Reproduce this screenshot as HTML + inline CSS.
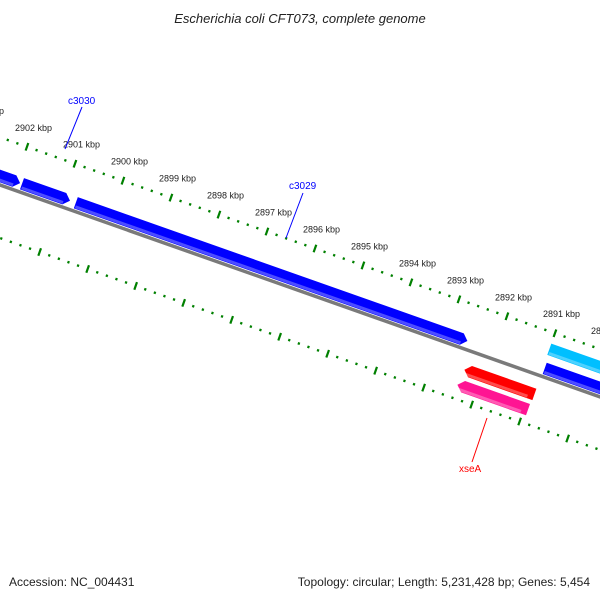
<!DOCTYPE html>
<html><head><meta charset="utf-8"><style>
body{margin:0;background:#fff}
svg{display:block;font-family:"Liberation Sans","DejaVu Sans",sans-serif}
</style></head><body>
<svg id="map" width="600" height="600" viewBox="0 0 600 600">
<text x="300" y="23" text-anchor="middle" font-size="13" font-style="italic" fill="#222">Escherichia coli CFT073, complete genome</text>
<text x="9" y="586" font-size="12" fill="#222">Accession: NC_004431</text>
<text x="590" y="586" text-anchor="end" font-size="12" fill="#222">Topology: circular; Length: 5,231,428 bp; Genes: 5,454</text>
<g id="layer"></g>
</svg>
<script>
// data (kbp)
const tickKbp = [2903,2902,2901,2900,2899,2898,2897,2896,2895,2894,2893,2892,2891,2890];
const geneNames = ["g-left","c3030","c3029","g-right","g-cyan","xseA-red","xseA-pink"];
const geneStart = [2902.6,2901.85,2900.73,2890.96,2891.0,2892.44,2892.47];
const geneEnd   = [2901.89,2900.85,2892.57,2889.5,2889.5,2890.98,2891.0];
const geneStrand= [1,1,1,1,1,-1,-1];
const geneColor = ["#0000ff","#0000ff","#0000ff","#0000ff","#00bfff","#ff0000","#ff1493"];
const geneV     = [-8.5,-8.5,-8.5,-8.5,-28,19.5,36];

const C=0.943,S=0.333,Y0=185,U0=12.7,SC=50.9;
const NS="http://www.w3.org/2000/svg";
const layer=document.getElementById('layer');
function uOf(k){return U0+(2902-k)*SC;}
function P(u,v){return [u*C-v*S, Y0+u*S+v*C];}
function mk(t,a){const e=document.createElementNS(NS,t);for(const k in a)e.setAttribute(k,a[k]);layer.appendChild(e);return e;}
function pts(arr){return arr.map(p=>p.map(n=>n.toFixed(1)).join(',')).join(' ');}

// backbone
let a=P(-20,0),b=P(700,0);
let bb=mk('line',{x1:a[0],y1:a[1],x2:b[0],y2:b[1],stroke:'#7a7a7a','stroke-width':3.5});



// tick rows
function row(v,off,labels,name){
  for(let k=2903;k>=2889.99;k-=0.2){
    const kk=Math.round(k*5)/5;
    const u=uOf(kk)+off;
    const major=Math.abs(kk-Math.round(kk))<1e-6;
    const len=major?4:1.2;
    const p1=P(u,v-len),p2=P(u,v+len);
    const l=mk('line',{x1:p1[0],y1:p1[1],x2:p2[0],y2:p2[1],stroke:'#008000','stroke-width':2.2});
    
    
  }
  if(labels){
    tickKbp.forEach(k=>{
      const p=P(uOf(k)+off,v);
      const t=mk('text',{x:p[0]-12,y:p[1]-16,'font-size':9,fill:'#222'});
      t.textContent=k+' kbp';
      
      
    });
  }
}
row(-45,0,true,'top-ruler');
row(50,47,false,'bottom-ruler');

// genes
const H=6,AH=6;
geneNames.forEach((n,i)=>{
  const u1=uOf(geneStart[i]),u2=uOf(geneEnd[i]),v=geneV[i];
  let poly;
  if(geneStrand[i]>0) poly=[P(u1,v-H),P(u2-AH,v-H),P(u2,v),P(u2-AH,v+H),P(u1,v+H)];
  else poly=[P(u1+AH,v-H),P(u2,v-H),P(u2,v+H),P(u1+AH,v+H),P(u1,v)];
  const g=mk('polygon',{points:pts(poly),fill:geneColor[i]});
  
  
  const q1=P(u1+1,v+H-2),q2=P(u2-AH,v+H-2);
  const hl=mk('line',{x1:q1[0],y1:q1[1],x2:q2[0],y2:q2[1],stroke:'#fff','stroke-opacity':0.3,'stroke-width':3});
  
  
});

// labels
function lab(txt,col,tx,ty,x1,y1,x2,y2){
  const l=mk('line',{x1:x1,y1:y1,x2:x2,y2:y2,stroke:col,'stroke-width':1});
  
  
  const t=mk('text',{x:tx,y:ty,'font-size':10,fill:col});
  t.textContent=txt;
  
  
}
lab('c3030','#0000ff',68,104,82,107,65,149);
lab('c3029','#0000ff',289,189,303,193,286,238);
lab('xseA','#ff0000',459,472,487,418,472,462);
</script>
</body></html>
